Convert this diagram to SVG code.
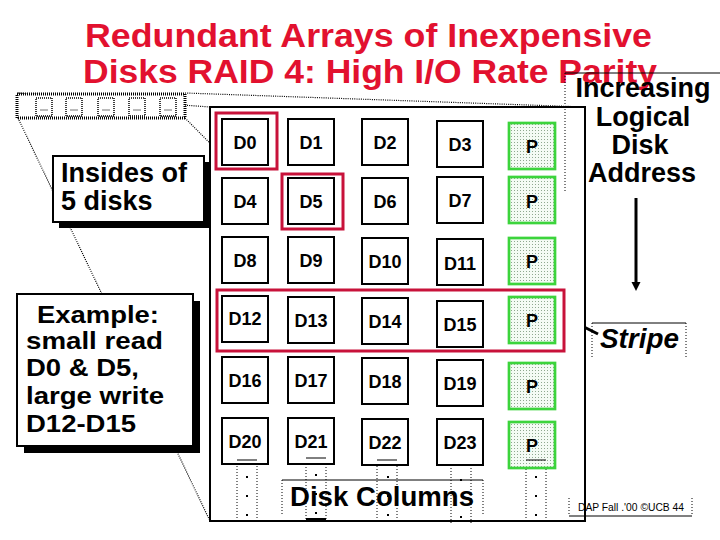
<svg xmlns="http://www.w3.org/2000/svg" width="720" height="540" viewBox="0 0 720 540">
<defs>
<pattern id="dots" width="3" height="3" patternUnits="userSpaceOnUse">
<rect width="3" height="3" fill="#f4fbf4"/>
<rect x="1" y="1" width="1" height="1" fill="#8fa88f"/>
</pattern>
<style>
.title{font-family:"Liberation Sans",Arial,sans-serif;font-weight:bold;font-size:34px;fill:#e2112f}
.lbl{font-family:"Liberation Sans",Arial,sans-serif;font-weight:bold;font-size:18px;fill:#000;text-anchor:middle}
.big{font-family:"Liberation Sans",Arial,sans-serif;font-weight:bold;font-size:27px;fill:#000}
.ex{font-family:"Liberation Sans",Arial,sans-serif;font-weight:bold;font-size:24px;fill:#000}
.d{fill:#fff;stroke:#000;stroke-width:2}
.p{fill:url(#dots);stroke:#3cd43c;stroke-width:2.7}
.hl{fill:none;stroke:#c8123a;stroke-width:3}
.persp{fill:none;stroke:#000;stroke-width:1.2;stroke-dasharray:1 1.2}
.dot{fill:none;stroke:#000;stroke-width:1;stroke-dasharray:1 2}
.box{fill:#fff;stroke:#000;stroke-width:2}
</style>
</defs>
<rect width="720" height="540" fill="#fff"/>
<g id="title">
<text class="title" x="85" y="47" textLength="567" lengthAdjust="spacingAndGlyphs">Redundant Arrays of Inexpensive</text>
<text class="title" x="83" y="83" textLength="574" lengthAdjust="spacingAndGlyphs">Disks RAID 4: High I/O Rate Parity</text>
</g>
<g id="connectors">
<line class="persp" x1="18" y1="93" x2="210" y2="107"/>
<line class="persp" x1="185" y1="93" x2="585" y2="107"/>
<line class="persp" x1="18" y1="118" x2="210" y2="521"/>
<line class="persp" x1="185" y1="118" x2="585" y2="521"/>
<line x1="564" y1="317" x2="598" y2="334" stroke="#000" stroke-width="3"/>
<line x1="636" y1="198" x2="636" y2="283" stroke="#000" stroke-width="3"/>
<polygon points="631.5,282 640.5,282 636,291" fill="#000"/>
</g>
<g id="disk-strip">
<rect x="17" y="94" width="168" height="24" fill="#fff" stroke="#000" stroke-width="3" stroke-dasharray="1 1"/>
<g fill="#fff" stroke="#000" stroke-width="1.5" stroke-dasharray="1 1">
<rect x="36" y="98" width="16" height="18"/>
<rect x="66" y="98" width="16" height="18"/>
<rect x="98" y="98" width="16" height="18"/>
<rect x="129" y="98" width="16" height="18"/>
<rect x="160" y="98" width="16" height="18"/>
</g>
<g stroke="#777" stroke-width="1">
<line x1="40" y1="110" x2="48" y2="110"/>
<line x1="70" y1="110" x2="78" y2="110"/>
<line x1="102" y1="110" x2="110" y2="110"/>
<line x1="133" y1="110" x2="141" y2="110"/>
<line x1="164" y1="110" x2="172" y2="110"/>
</g>
</g>
<g id="frame">
<rect x="210" y="107" width="375" height="414" fill="#fff" stroke="#000" stroke-width="2"/>
</g>
<g id="increasing">
<line x1="565" y1="73" x2="720" y2="73" stroke="#000" stroke-width="1"/>
<line class="dot" x1="565" y1="73" x2="565" y2="192"/>
<text class="big" text-anchor="middle" x="643" y="97">Increasing</text>
<text class="big" text-anchor="middle" x="643" y="126">Logical</text>
<text class="big" text-anchor="middle" x="640" y="154">Disk</text>
<text class="big" text-anchor="middle" x="642" y="182">Address</text>
</g>
<g id="columns">
<g class="dot">
<line x1="237" y1="460" x2="237" y2="521"/><line x1="257" y1="460" x2="257" y2="521"/>
<line x1="306" y1="458" x2="306" y2="521"/><line x1="326" y1="458" x2="326" y2="521"/>
<line x1="377" y1="460" x2="377" y2="521"/><line x1="397" y1="460" x2="397" y2="521"/>
<line x1="451" y1="465" x2="451" y2="525"/><line x1="471" y1="465" x2="471" y2="525"/>
<line x1="526" y1="460" x2="526" y2="521"/><line x1="546" y1="460" x2="546" y2="521"/>
</g>
<line x1="306" y1="519" x2="326" y2="519" stroke="#000" stroke-width="2"/>
<g fill="#000">
<rect x="246" y="476" width="2" height="2"/><rect x="246" y="495" width="2" height="2"/><rect x="246" y="514" width="2" height="2"/>
<rect x="315" y="474" width="2" height="2"/><rect x="315" y="493" width="2" height="2"/><rect x="315" y="512" width="2" height="2"/>
<rect x="387" y="476" width="2" height="2"/><rect x="387" y="495" width="2" height="2"/><rect x="387" y="514" width="2" height="2"/>
<rect x="460" y="479" width="2" height="2"/><rect x="460" y="516" width="2" height="2"/>
<rect x="535" y="476" width="2" height="2"/><rect x="535" y="495" width="2" height="2"/><rect x="535" y="514" width="2" height="2"/>
</g>
</g>
<g id="disk-columns-label">
<line x1="282" y1="480" x2="483" y2="480" stroke="#000" stroke-width="1"/>
<line class="dot" x1="282" y1="480" x2="282" y2="515"/>
<line class="dot" x1="483" y1="480" x2="483" y2="515"/>
<text class="big" x="290" y="506" textLength="184" lengthAdjust="spacingAndGlyphs">Disk Columns</text>
</g>
<g id="row1">
<g id="D0"><rect class="d" x="222" y="119" width="46" height="46"/><text class="lbl" x="245" y="148.5">D0</text></g>
<g id="D1"><rect class="d" x="288" y="119" width="46" height="46"/><text class="lbl" x="311" y="148.5">D1</text></g>
<g id="D2"><rect class="d" x="362" y="119" width="46" height="46"/><text class="lbl" x="385" y="148.5">D2</text></g>
<g id="D3"><rect class="d" x="437" y="121" width="46" height="46"/><text class="lbl" x="460" y="150.5">D3</text></g>
<g id="P1"><rect class="p" x="509" y="123" width="46" height="46"/><text class="lbl" x="532" y="152.5">P</text></g>
</g>
<g id="row2">
<g id="D4"><rect class="d" x="222" y="178" width="46" height="46"/><text class="lbl" x="245" y="207.5">D4</text></g>
<g id="D5"><rect class="d" x="288" y="178" width="46" height="46"/><text class="lbl" x="311" y="207.5">D5</text></g>
<g id="D6"><rect class="d" x="362" y="178" width="46" height="46"/><text class="lbl" x="385" y="207.5">D6</text></g>
<g id="D7"><rect class="d" x="437" y="177" width="46" height="46"/><text class="lbl" x="460" y="206.5">D7</text></g>
<g id="P2"><rect class="p" x="509" y="177" width="46" height="46"/><text class="lbl" x="532" y="207.5">P</text></g>
</g>
<g id="row3">
<g id="D8"><rect class="d" x="222" y="237" width="46" height="46"/><text class="lbl" x="245" y="266.5">D8</text></g>
<g id="D9"><rect class="d" x="288" y="237" width="46" height="46"/><text class="lbl" x="311" y="266.5">D9</text></g>
<g id="D10"><rect class="d" x="362" y="238" width="46" height="46"/><text class="lbl" x="385" y="267.5">D10</text></g>
<g id="D11"><rect class="d" x="437" y="239" width="46" height="46"/><text class="lbl" x="460" y="269.5">D11</text></g>
<g id="P3"><rect class="p" x="509" y="238" width="46" height="46"/><text class="lbl" x="532" y="267.5">P</text></g>
</g>
<g id="row4">
<g id="D12"><rect class="d" x="222" y="296" width="46" height="46"/><text class="lbl" x="245" y="324.5">D12</text></g>
<g id="D13"><rect class="d" x="288" y="297" width="46" height="46"/><text class="lbl" x="311" y="326.5">D13</text></g>
<g id="D14"><rect class="d" x="362" y="298" width="46" height="46"/><text class="lbl" x="385" y="327.5">D14</text></g>
<g id="D15"><rect class="d" x="437" y="301" width="46" height="46"/><text class="lbl" x="460" y="330.5">D15</text></g>
<g id="P4"><rect class="p" x="509" y="297" width="46" height="46"/><text class="lbl" x="532" y="326.5">P</text></g>
</g>
<g id="row5">
<g id="D16"><rect class="d" x="222" y="357" width="46" height="46"/><text class="lbl" x="245" y="386.5">D16</text></g>
<g id="D17"><rect class="d" x="288" y="357" width="46" height="46"/><text class="lbl" x="311" y="386.5">D17</text></g>
<g id="D18"><rect class="d" x="362" y="358" width="46" height="46"/><text class="lbl" x="385" y="387.5">D18</text></g>
<g id="D19"><rect class="d" x="437" y="360" width="46" height="46"/><text class="lbl" x="460" y="389.5">D19</text></g>
<g id="P5"><rect class="p" x="509" y="363" width="46" height="46"/><text class="lbl" x="532" y="392.5">P</text></g>
</g>
<g id="row6">
<g id="D20"><rect class="d" x="222" y="418" width="46" height="46"/><text class="lbl" x="245" y="447.5">D20</text></g>
<g id="D21"><rect class="d" x="288" y="418" width="46" height="46"/><text class="lbl" x="311" y="447.5">D21</text></g>
<g id="D22"><rect class="d" x="362" y="419" width="46" height="46"/><text class="lbl" x="385" y="448.5">D22</text></g>
<g id="D23"><rect class="d" x="437" y="419" width="46" height="46"/><text class="lbl" x="460" y="448.5">D23</text></g>
<g id="P6"><rect class="p" x="509" y="422" width="46" height="46"/><text class="lbl" x="532" y="451.5">P</text></g>
</g>
<g stroke="#000" stroke-width="1">
<line x1="237" y1="460" x2="257" y2="460"/>
<line x1="306" y1="458" x2="326" y2="458"/>
<line x1="377" y1="460" x2="397" y2="460"/>
<line x1="526" y1="460" x2="546" y2="460"/>
</g>
<g id="highlights">
<rect class="hl" x="216" y="113" width="61" height="56"/>
<rect class="hl" x="282" y="174" width="61" height="55"/>
<rect class="hl" x="217" y="290" width="347" height="61"/>
</g>
<g id="stripe">
<line x1="592" y1="323" x2="686" y2="323" stroke="#000" stroke-width="1"/>
<line class="dot" x1="592" y1="323" x2="592" y2="357"/>
<line class="dot" x1="686" y1="323" x2="686" y2="357"/>
<text class="big" x="600" y="348" font-style="italic" textLength="79" lengthAdjust="spacingAndGlyphs">Stripe</text>
</g>
<g id="insides">
<rect x="59" y="162" width="151" height="66" fill="#000"/>
<rect class="box" x="53" y="156" width="151" height="66"/>
<text class="big" x="61" y="182">Insides of</text>
<text class="big" x="61" y="210">5 disks</text>
</g>
<g id="example">
<rect x="24" y="301" width="176" height="152" fill="#000"/>
<rect class="box" x="17" y="294" width="176" height="152"/>
<text class="ex" x="37" y="323" textLength="122" lengthAdjust="spacingAndGlyphs">Example:</text>
<text class="ex" x="26" y="349" textLength="137" lengthAdjust="spacingAndGlyphs">small read</text>
<text class="ex" x="26" y="376" textLength="113" lengthAdjust="spacingAndGlyphs">D0 &amp; D5,</text>
<text class="ex" x="26" y="404" textLength="138" lengthAdjust="spacingAndGlyphs">large write</text>
<text class="ex" x="26" y="432" textLength="110" lengthAdjust="spacingAndGlyphs">D12-D15</text>
</g>
<g id="footer">
<line x1="569" y1="516" x2="692" y2="516" stroke="#000" stroke-width="1"/>
<line class="dot" x1="569" y1="498" x2="569" y2="516"/>
<line class="dot" x1="692" y1="498" x2="692" y2="516"/>
<text x="578" y="511" font-family="'Liberation Sans',Arial,sans-serif" font-size="10" fill="#000" textLength="106" lengthAdjust="spacingAndGlyphs">DAP Fall .'00 ©UCB 44</text>
</g>
</svg>
